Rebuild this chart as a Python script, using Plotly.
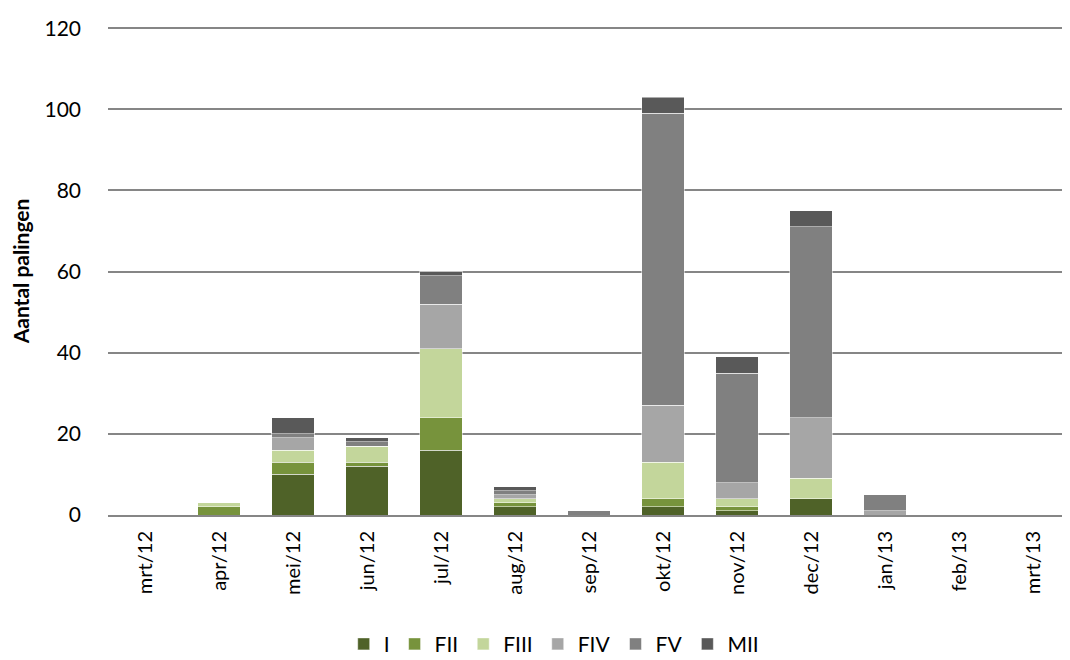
import plotly.graph_objects as go

months = ["mrt/12", "apr/12", "mei/12", "jun/12", "jul/12", "aug/12", "sep/12",
          "okt/12", "nov/12", "dec/12", "jan/13", "feb/13", "mrt/13"]
cat_ids = [f"{i}_{m}" for i, m in enumerate(months)]

stage_I = [0, 0, 10, 12, 16, 2, 0, 2, 1, 4, 0, 0, 0]
stage_FII = [0, 2, 3, 1, 8, 1, 0, 2, 1, 0, 0, 0, 0]
stage_FIII = [0, 1, 3, 4, 17, 1, 0, 9, 2, 5, 0, 0, 0]
stage_FIV = [0, 0, 3, 0, 11, 1, 0, 14, 4, 15, 1, 0, 0]
stage_FV = [0, 0, 1, 1, 7, 1, 1, 72, 27, 47, 4, 0, 0]
stage_MII = [0, 0, 4, 1, 1, 1, 0, 4, 4, 4, 0, 0, 0]

series = [
    ("I", stage_I, "#4F6228"),
    ("FII", stage_FII, "#77933C"),
    ("FIII", stage_FIII, "#C3D69B"),
    ("FIV", stage_FIV, "#A6A6A6"),
    ("FV", stage_FV, "#808080"),
    ("MII", stage_MII, "#595959"),
]

fig = go.Figure()
for name, vals, col in series:
    fig.add_trace(go.Bar(
        x=cat_ids, y=vals, name=name,
        marker=dict(color=col, line=dict(color="rgba(255,255,255,0.5)", width=1)),
    ))

# the page body adds an 8px offset, so margins are shifted to compensate
fig.update_layout(
    barmode="stack",
    bargap=0.42,
    width=1070, height=660,
    paper_bgcolor="white", plot_bgcolor="white",
    font=dict(family="Lato, Calibri, sans-serif", size=20, color="black"),
    margin=dict(l=100, r=8, t=19, b=153, autoexpand=False),
    legend=dict(orientation="h", xref="container", x=0.51, xanchor="center",
                yref="container", y=0.036, yanchor="middle",
                font=dict(size=21), traceorder="normal", itemwidth=30),
    xaxis=dict(
        tickmode="array", tickvals=cat_ids, ticktext=months,
        tickangle=-90, tickfont=dict(size=20), ticklabelstandoff=6,
        showline=True, linecolor="#868686", linewidth=2,
        showgrid=False, ticks="", automargin=False,
    ),
    yaxis=dict(
        range=[0, 120.3], tickvals=[0, 20, 40, 60, 80, 100, 120],
        showgrid=True, gridcolor="#868686", gridwidth=1.5,
        zeroline=False, showline=False, automargin=False,
        tickfont=dict(size=21), ticklabelstandoff=26,
        title=dict(text="<b>Aantal palingen</b>", font=dict(size=21), standoff=13),
    ),
)

fig.write_html("out.html")
